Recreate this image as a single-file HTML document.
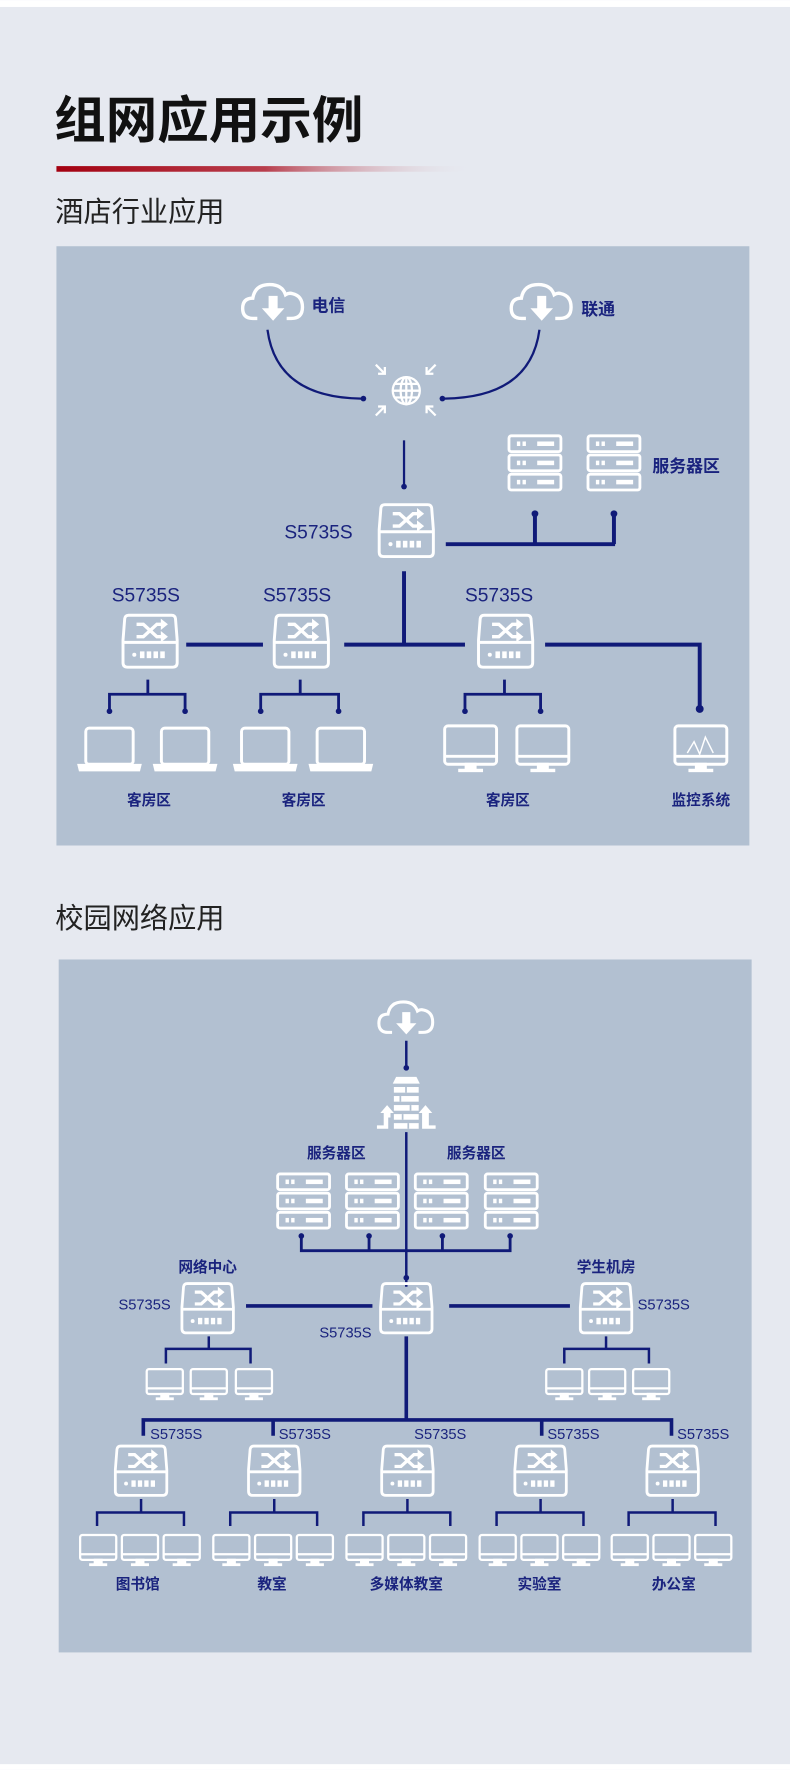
<!DOCTYPE html>
<html><head><meta charset="utf-8"><style>
html,body{margin:0;padding:0;background:#fff;}
svg{display:block;}
text{font-family:"Liberation Sans","Noto Sans CJK SC",sans-serif;}
</style></head><body>
<svg width="790" height="1770" viewBox="0 0 700 1568" xmlns="http://www.w3.org/2000/svg">
<defs>
<linearGradient id="rg" x1="0" x2="1"><stop offset="0" stop-color="#a30010"/><stop offset="0.5" stop-color="#b02030" stop-opacity="0.85"/><stop offset="1" stop-color="#e6e9f0" stop-opacity="0"/></linearGradient>
<g id="sw" fill="none" stroke="#fff" stroke-width="2.6">
<path d="M-19,-23 L19,-23 Q22,-23 22.5,-20 L24,-1 L24,19 Q24,23 20,23 L-20,23 Q-24,23 -24,19 L-24,-1 L-22.5,-20 Q-22,-23 -19,-23 Z"/>
<line x1="-24" y1="1" x2="24" y2="1"/>
<path d="M-12,-15 L-6,-15 L6,-4 L11,-4 M-12,-4 L-6,-4 L6,-15 L11,-15" stroke-width="3"/>
<path d="M10,-19 L15,-15 L10,-11 Z M10,-8 L15,-4 L10,0 Z" fill="#fff" stroke-width="1"/>
<circle cx="-14" cy="12" r="1.8" fill="#fff" stroke="none"/>
<g fill="#fff" stroke="none"><rect x="-9" y="9" width="4" height="6"/><rect x="-3" y="9" width="4" height="6"/><rect x="3" y="9" width="4" height="6"/><rect x="9" y="9" width="4" height="6"/></g>
</g>
<g id="srv" fill="none" stroke="#fff" stroke-width="2.5">
<rect x="-23" y="-24" width="46" height="14" rx="2"/>
<rect x="-23" y="-7" width="46" height="14" rx="2"/>
<rect x="-23" y="10" width="46" height="14" rx="2"/>
<g fill="#fff" stroke="none">
<rect x="-16" y="-19" width="3" height="4"/><rect x="-11" y="-19" width="3" height="4"/><rect x="2" y="-19" width="15" height="4"/>
<rect x="-16" y="-2" width="3" height="4"/><rect x="-11" y="-2" width="3" height="4"/><rect x="2" y="-2" width="15" height="4"/>
<rect x="-16" y="15" width="3" height="4"/><rect x="-11" y="15" width="3" height="4"/><rect x="2" y="15" width="15" height="4"/>
</g></g>
<g id="lap" fill="none" stroke="#fff" stroke-width="2.6">
<rect x="-21" y="-18" width="42" height="32" rx="3"/>
<path d="M-27,15 L27,15 L26,19 L-26,19 Z" fill="#fff"/>
</g>
<g id="mon" fill="none" stroke="#fff" stroke-width="2.6">
<rect x="-23" y="-19" width="46" height="34" rx="3"/>
<line x1="-23" y1="8" x2="23" y2="8"/>
<rect x="-4" y="15" width="8" height="4" fill="#fff"/>
<rect x="-11" y="19" width="22" height="3" fill="#fff" stroke="none"/>
</g>
<g id="smon" fill="none" stroke="#fff" stroke-width="2">
<rect x="-16" y="-13" width="32" height="22" rx="2"/>
<line x1="-16" y1="4" x2="16" y2="4"/>
<rect x="-3" y="9" width="6" height="3" fill="#fff"/>
<rect x="-8" y="12" width="16" height="2.5" fill="#fff" stroke="none"/>
</g>
<g id="cloud">
<path d="M-14,14 L-18,14 Q-27,14 -27,5 Q-27,-4 -18,-4 Q-16,-16 -3,-16 Q8,-16 11,-7 Q14,-9 17,-8 Q26,-6 26,4 Q26,14 16,14 L12,14" fill="none" stroke="#fff" stroke-width="3"/>
<path d="M-4,-6 L4,-6 L4,5 L10,5 L0,16 L-10,5 L-4,5 Z" fill="#fff"/>
</g>
</defs>
<rect width="700" height="1568" fill="#e6e9f0"/>
<rect width="700" height="6" fill="#fff"/>
<rect y="1563" width="700" height="5" fill="#fff"/>
<text x="48" y="122" font-size="45" font-weight="bold" fill="#111" textLength="274" lengthAdjust="spacingAndGlyphs">组网应用示例</text>
<rect x="50" y="147" width="370" height="5" fill="url(#rg)"/>
<text x="49" y="196" font-size="25" fill="#222">酒店行业应用</text>
<rect x="50" y="218" width="614" height="531" fill="#b2c0d1"/>
<g fill="#1a237e" font-size="15" font-weight="bold">
<text x="276" y="276">电信</text><text x="515" y="279">联通</text>
<text x="578" y="418">服务器区</text>
</g>
<g fill="#1a237e" font-size="17">
<text x="252" y="477">S5735S</text>
<text x="99" y="533">S5735S</text><text x="233" y="533">S5735S</text><text x="412" y="533">S5735S</text>
</g>
<use href="#cloud" x="242" y="268"/><use href="#cloud" x="480" y="268"/>
<g fill="none" stroke="#101a78" stroke-width="2">
<path d="M237,292 Q245,352 320,353"/><path d="M478,292 Q470,352 394,353"/>
<line x1="358" y1="390" x2="358" y2="430"/>
</g>
<g fill="#101a78"><circle cx="322" cy="353" r="2.5"/><circle cx="392" cy="353" r="2.5"/><circle cx="358" cy="431" r="2.5"/></g>
<g fill="none" stroke="#fff" stroke-width="2">
<circle cx="360" cy="346" r="12"/><ellipse cx="360" cy="346" rx="5" ry="12"/>
<line x1="348" y1="346" x2="372" y2="346"/><line x1="350" y1="340" x2="370" y2="340"/><line x1="350" y1="352" x2="370" y2="352"/><line x1="360" y1="334" x2="360" y2="358"/>
<path d="M333,323 L341,331 M341,325 L341,331 L335,331"/>
<path d="M386,323 L378,331 M378,325 L378,331 L384,331"/>
<path d="M333,368 L341,360 M335,360 L341,360 L341,366"/>
<path d="M386,368 L378,360 M384,360 L378,360 L378,366"/>
</g>
<use href="#srv" x="474" y="410"/><use href="#srv" x="544" y="410"/>
<use href="#sw" x="360" y="470"/>
<g fill="none" stroke="#101a78" stroke-width="3.5">
<path d="M395,482 L545,482 M474,482 L474,455 M544,482 L544,455"/>
<path d="M358,506 L358,571 M305,571 L412,571 M165,571 L233,571 M483,571 L620,571 L620,628"/>
</g>
<g fill="#101a78"><circle cx="474" cy="455" r="3"/><circle cx="544" cy="455" r="3"/><circle cx="620" cy="628" r="3.5"/></g>
<use href="#sw" x="133" y="568"/><use href="#sw" x="267" y="568"/><use href="#sw" x="448" y="568"/>
<g fill="none" stroke="#101a78" stroke-width="2.5">
<path d="M131,602 L131,615 M97,630 L97,615 L164,615 L164,630"/>
<path d="M266,602 L266,615 M231,630 L231,615 L300,615 L300,630"/>
<path d="M447,602 L447,615 M412,630 L412,615 L479,615 L479,630"/>
</g>
<g fill="#101a78"><circle cx="97" cy="630" r="2.5"/><circle cx="164" cy="630" r="2.5"/><circle cx="231" cy="630" r="2.5"/><circle cx="300" cy="630" r="2.5"/><circle cx="412" cy="630" r="2.5"/><circle cx="479" cy="630" r="2.5"/></g>
<use href="#lap" x="97" y="663"/><use href="#lap" x="164" y="663"/><use href="#lap" x="235" y="663"/><use href="#lap" x="302" y="663"/>
<use href="#mon" x="417" y="662"/><use href="#mon" x="481" y="662"/>
<use href="#mon" x="621" y="662"/>
<path d="M609,667 L615,657 L620,668 L625,653 L632,667" fill="none" stroke="#fff" stroke-width="1.3"/>
<g fill="#1a237e" font-size="13" font-weight="bold" text-anchor="middle">
<text x="132" y="713">客房区</text><text x="269" y="713">客房区</text><text x="450" y="713">客房区</text><text x="621" y="713">监控系统</text>
</g>
<text x="49" y="822" font-size="25" fill="#222">校园网络应用</text>
<rect x="52" y="850" width="614" height="614" fill="#b2c0d1"/>
<use href="#cloud" x="360" y="902" transform="translate(360 902) scale(0.9) translate(-360 -902)"/>
<g fill="none" stroke="#101a78" stroke-width="2.2">
<line x1="360" y1="922" x2="360" y2="945"/>
<line x1="360" y1="1003" x2="360" y2="1140"/>
</g>
<circle cx="360" cy="946" r="2.5" fill="#101a78"/>
<g fill="#fff">
<path d="M351,954 L369,954 L372,960 L348,960 Z"/>
<rect x="349" y="963" width="22" height="5"/><rect x="349" y="971" width="22" height="5"/><rect x="349" y="979" width="22" height="5"/><rect x="349" y="987" width="22" height="5"/><rect x="349" y="995" width="22" height="5"/>
<path d="M334,997 L340,997 L340,986 L337,986 L343,979 L349,986 L346,986 L346,990 L344,990 L344,1000 L334,1000 Z"/>
<path d="M386,997 L380,997 L380,986 L383,986 L377,979 L371,986 L374,986 L374,1000 L386,1000 Z"/>
</g>
<g fill="#b2c0d1"><rect x="359" y="963" width="1.5" height="5"/><rect x="354" y="971" width="1.5" height="5"/><rect x="363" y="979" width="1.5" height="5"/><rect x="356" y="987" width="1.5" height="5"/><rect x="361" y="995" width="1.5" height="5"/></g>
<g fill="#1a237e" font-size="13" font-weight="bold" text-anchor="middle">
<text x="298" y="1026">服务器区</text><text x="422" y="1026">服务器区</text>
<text x="184" y="1127">网络中心</text><text x="537" y="1127">学生机房</text>
<text x="122" y="1408">图书馆</text><text x="241" y="1408">教室</text><text x="360" y="1408">多媒体教室</text><text x="478" y="1408">实验室</text><text x="597" y="1408">办公室</text>
</g>
<use href="#srv" x="269" y="1064"/><use href="#srv" x="330" y="1064"/><use href="#srv" x="391" y="1064"/><use href="#srv" x="453" y="1064"/>
<g fill="none" stroke="#101a78" stroke-width="2.5">
<path d="M267,1095 L267,1108 L452,1108 L452,1095 M327,1095 L327,1108 M392,1095 L392,1108"/>
</g>
<g fill="#101a78"><circle cx="267" cy="1095" r="2.5"/><circle cx="327" cy="1095" r="2.5"/><circle cx="392" cy="1095" r="2.5"/><circle cx="452" cy="1095" r="2.5"/><circle cx="360" cy="1132" r="2.5"/></g>
<g fill="#1a237e" font-size="13">
<text x="283" y="1185">S5735S</text><text x="105" y="1160">S5735S</text><text x="565" y="1160">S5735S</text>
<text x="133" y="1275">S5735S</text><text x="247" y="1275">S5735S</text><text x="367" y="1275">S5735S</text><text x="485" y="1275">S5735S</text><text x="600" y="1275">S5735S</text>
</g>
<g transform="translate(360 1159) scale(0.95) translate(-360 -1159)"><use href="#sw" x="360" y="1159"/></g>
<g transform="translate(184 1159) scale(0.95) translate(-184 -1159)"><use href="#sw" x="184" y="1159"/></g>
<g transform="translate(537 1159) scale(0.95) translate(-537 -1159)"><use href="#sw" x="537" y="1159"/></g>
<g fill="none" stroke="#101a78" stroke-width="3.2">
<path d="M218,1157 L330,1157 M398,1157 L505,1157"/>
<path d="M360,1184 L360,1258 M127,1272 L127,1258 L595,1258 L595,1272 M242,1258 L242,1272 M480,1258 L480,1272"/>
</g>
<g fill="none" stroke="#101a78" stroke-width="2.2">
<path d="M185,1184 L185,1195 M147,1208 L147,1195 L222,1195 L222,1208"/>
<path d="M537,1184 L537,1195 M500,1208 L500,1195 L575,1195 L575,1208"/>
</g>
<use href="#smon" x="146" y="1226"/><use href="#smon" x="185" y="1226"/><use href="#smon" x="225" y="1226"/>
<use href="#smon" x="500" y="1226"/><use href="#smon" x="538" y="1226"/><use href="#smon" x="577" y="1226"/>
<g id="grp">
<g transform="translate(125 1303) scale(0.95) translate(-125 -1303)"><use href="#sw" x="125" y="1303"/></g>
<path d="M125,1328 L125,1340 M86,1352 L86,1340 L163,1340 L163,1352" fill="none" stroke="#101a78" stroke-width="2.2"/>
<use href="#smon" x="87" y="1373"/><use href="#smon" x="124" y="1373"/><use href="#smon" x="161" y="1373"/>
</g>
<use href="#grp" x="118"/><use href="#grp" x="236"/><use href="#grp" x="354"/><use href="#grp" x="471"/>
</svg>
</body></html>
